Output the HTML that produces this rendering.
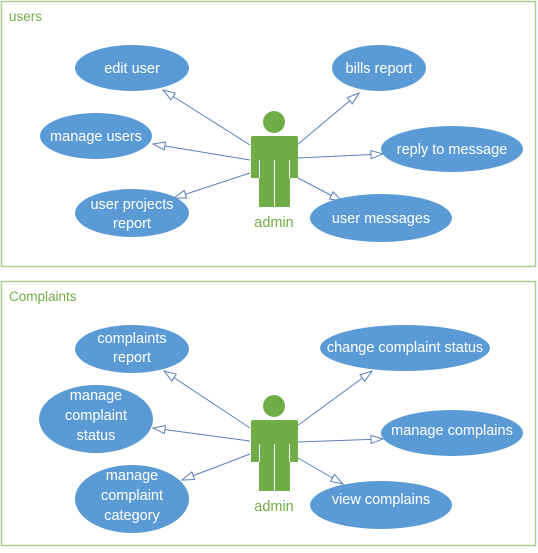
<!DOCTYPE html>
<html><head><meta charset="utf-8"><style>
html,body{margin:0;padding:0;background:#fff;}
svg text{font-family:"Liberation Sans",sans-serif;}
</style></head><body>
<svg width="538" height="548" viewBox="0 0 538 548" xmlns="http://www.w3.org/2000/svg">
<defs>
<marker id="a" markerWidth="14" markerHeight="10" refX="13" refY="5" orient="auto" markerUnits="userSpaceOnUse">
<path d="M1,1 L13,5 L1,9 Z" fill="#fff" stroke="#5b7fb8" stroke-width="1"/>
</marker>
<g id="actor" fill="#70ad47">
<circle cx="274" cy="122" r="11"/>
<path d="M253,136 H296 Q298,136 298,138 V178 H290 V207 H259 V178 H251 V138 Q251,136 253,136 Z"/>
<line x1="274.5" y1="160" x2="274.5" y2="207" stroke="#fff" stroke-width="1"/>
<line x1="259.5" y1="160" x2="259.5" y2="178" stroke="#fff" stroke-width="1"/>
<line x1="289.5" y1="160" x2="289.5" y2="178" stroke="#fff" stroke-width="1"/>
</g>
</defs>
<rect x="1.5" y="1.5" width="534" height="265" fill="none" stroke="#a9d08e" stroke-width="1.5"/>
<rect x="1.5" y="281.5" width="534" height="264" fill="none" stroke="#a9d08e" stroke-width="1.5"/>
<text x="9" y="21" font-size="13.5" fill="#70ad47">users</text>
<text x="9" y="301" font-size="13.5" fill="#70ad47">Complaints</text>

<g stroke="#5b7fb8" stroke-width="1" marker-end="url(#a)">
<line x1="250" y1="145" x2="163" y2="90"/>
<line x1="297" y1="145" x2="359" y2="93"/>
<line x1="250" y1="160" x2="153" y2="144"/>
<line x1="298" y1="158" x2="383" y2="154"/>
<line x1="250" y1="173" x2="174" y2="198"/>
<line x1="298" y1="178" x2="342" y2="201"/>
<line x1="250" y1="428" x2="164" y2="371"/>
<line x1="297" y1="426" x2="372" y2="371"/>
<line x1="250" y1="441" x2="153" y2="428"/>
<line x1="298" y1="442" x2="383" y2="439"/>
<line x1="250" y1="454" x2="182" y2="480"/>
<line x1="298" y1="458" x2="343" y2="484"/>
</g>

<use href="#actor"/>
<use href="#actor" transform="translate(0,284)"/>
<text x="274" y="227" font-size="14.5" fill="#70ad47" text-anchor="middle">admin</text>
<text x="274" y="511" font-size="14.5" fill="#70ad47" text-anchor="middle">admin</text>

<g fill="#5b9bd5">
<ellipse cx="132" cy="68" rx="57" ry="23"/>
<ellipse cx="379" cy="68" rx="47" ry="23"/>
<ellipse cx="96" cy="136" rx="56" ry="23"/>
<ellipse cx="452" cy="149" rx="71" ry="23"/>
<ellipse cx="132" cy="213" rx="57" ry="24"/>
<ellipse cx="381" cy="218" rx="71" ry="24"/>
<ellipse cx="132" cy="349" rx="57" ry="24"/>
<ellipse cx="405" cy="348" rx="85" ry="23"/>
<ellipse cx="96" cy="419" rx="57" ry="34"/>
<ellipse cx="452" cy="433" rx="71" ry="23"/>
<ellipse cx="132" cy="499" rx="57" ry="34"/>
<ellipse cx="381" cy="505" rx="71" ry="24"/>
</g>
<g fill="#fff" font-size="14.5" text-anchor="middle">
<text x="132" y="73">edit user</text>
<text x="379" y="73">bills report</text>
<text x="96" y="141">manage users</text>
<text x="452" y="154">reply to message</text>
<text x="132" y="209">user projects</text>
<text x="132" y="228">report</text>
<text x="381" y="223">user messages</text>
<text x="132" y="343">complaints</text>
<text x="132" y="362">report</text>
<text x="405" y="352">change complaint status</text>
<text x="96" y="400">manage</text>
<text x="96" y="420">complaint</text>
<text x="96" y="440">status</text>
<text x="452" y="435">manage complains</text>
<text x="132" y="480">manage</text>
<text x="132" y="500">complaint</text>
<text x="132" y="520">category</text>
<text x="381" y="504">view complains</text>
</g>
</svg>
</body></html>
